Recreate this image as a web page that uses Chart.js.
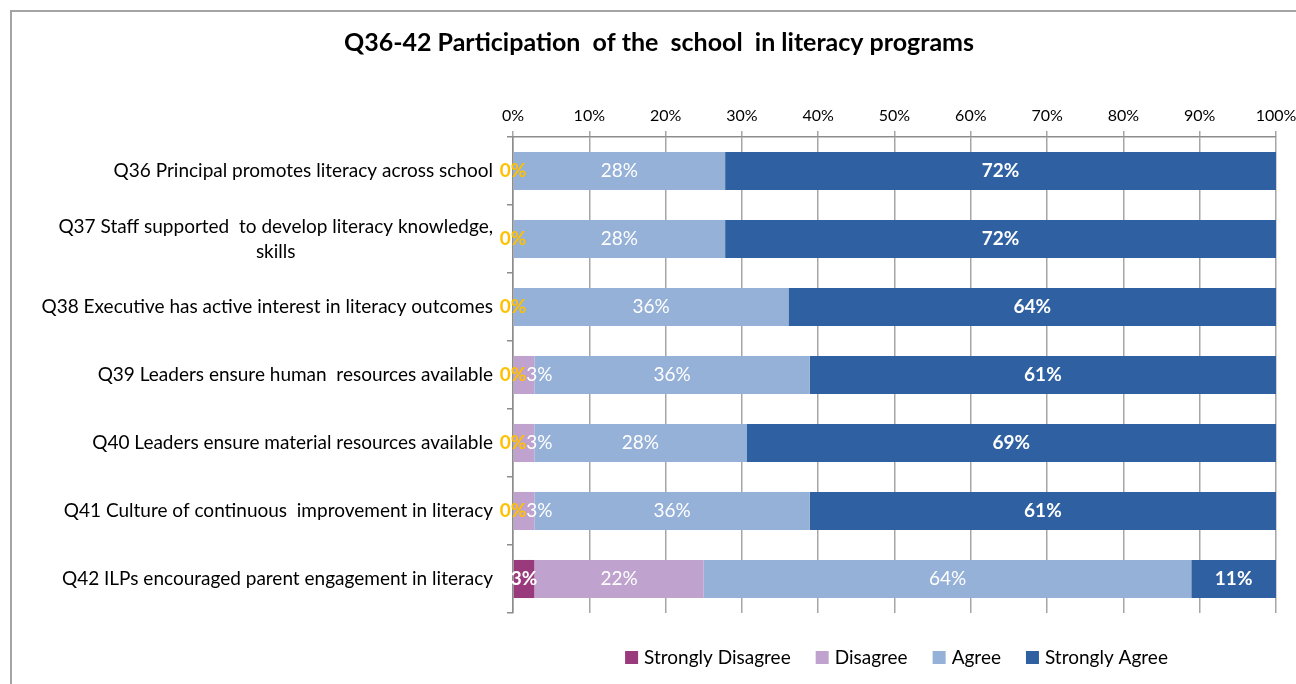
<!DOCTYPE html>
<html><head><meta charset="utf-8">
<script src="https://cdn.jsdelivr.net/npm/chart.js@4/dist/chart.umd.min.js"></script>
<style>
html,body{margin:0;padding:0;background:#fff;overflow:hidden}
#wrap{position:absolute;left:0;top:0;width:1296px;height:684px}
#frame{position:absolute;left:10px;top:10px;width:1320px;height:720px;border-left:2px solid #A4A4A4;border-top:2px solid #A4A4A4}
canvas{position:absolute;left:0;top:0}
</style></head><body>
<div id="wrap"><div id="frame"></div><canvas id="c" width="1296" height="684"></canvas></div>
<script>
const titleText = 'Q36-42 Participation  of the  school  in literacy programs';
const categories = [
  ['Q36 Principal promotes literacy across school'],
  ['Q37 Staff supported  to develop literacy knowledge,', 'skills'],
  ['Q38 Executive has active interest in literacy outcomes'],
  ['Q39 Leaders ensure human  resources available'],
  ['Q40 Leaders ensure material resources available'],
  ['Q41 Culture of continuous  improvement in literacy'],
  ['Q42 ILPs encouraged parent engagement in literacy']
];
const seriesNames = ['Strongly Disagree', 'Disagree', 'Agree', 'Strongly Agree'];
const stronglyDisagree = [0, 0, 0, 0, 0, 0, 2.8];
const disagree = [0, 0, 0, 2.8, 2.8, 2.8, 22.2];
const agree = [27.8, 27.8, 36.1, 36.1, 27.8, 36.1, 63.9];
const stronglyAgree = [72.2, 72.2, 63.9, 61.1, 69.4, 61.1, 11.1];
const xTicks = [0, 10, 20, 30, 40, 50, 60, 70, 80, 90, 100];

const FONT = 'Lato, "Open Sans", sans-serif';
const colors = ['#993A7C', '#BFA3CE', '#95B1D8', '#2E60A2'];
const values = [stronglyDisagree, disagree, agree, stronglyAgree];

const labelPlugin = {
  id: 'extras',
  afterDraw(chart) {
    const ctx = chart.ctx;
    const area = chart.chartArea;
    ctx.save();
    // title
    ctx.fillStyle = '#000';
    ctx.font = 'bold 25px ' + FONT;
    ctx.textAlign = 'center';
    ctx.textBaseline = 'middle';
    ctx.fillText(titleText, 659, 43);
    // category labels
    const y = chart.scales.y;
    ctx.font = '19px ' + FONT;
    categories.forEach((lines, i) => {
      const cy = y.getPixelForValue(i);
      const w = Math.max(...lines.map(l => ctx.measureText(l).width));
      const cx = area.left - 20 - w / 2;
      const lh = 25;
      const y0 = cy - (lines.length - 1) * lh / 2;
      lines.forEach((l, k) => ctx.fillText(l, cx, y0 + k * lh));
    });
    // data labels
    const sdRight = [];
    const specs = [];
    [0, 1, 2, 3].forEach(di => {
      const meta = chart.getDatasetMeta(di);
      meta.data.forEach((bar, j) => {
        const v = values[di][j];
        if (di === 1 && v === 0) return;
        const bold = (di === 0 || di === 3);
        const font = (bold ? 'bold ' : '') + '19px ' + FONT;
        ctx.font = font;
        const txt = Math.round(v) + '%';
        const w = ctx.measureText(txt).width;
        const props = bar.getProps(['x', 'y', 'base'], true);
        let x = (props.x + props.base) / 2;
        if (di === 0) sdRight[j] = x + w / 2;
        if (di === 1 && sdRight[j] !== undefined && values[0][j] === 0) x = Math.max(x, sdRight[j] + w / 2);
        specs.push({ di, txt, font, x, y: props.y, color: (di === 0 && v === 0) ? '#FFC000' : '#FFFFFF' });
      });
    });
    [1, 2, 3, 0].forEach(di => specs.filter(s => s.di === di).forEach(s => {
      ctx.font = s.font;
      ctx.fillStyle = s.color;
      ctx.fillText(s.txt, s.x, s.y);
    }));
    // legend
    ctx.font = '19px ' + FONT;
    ctx.textAlign = 'left';
    const box = 13, gapText = 6, gapItem = 25;
    let total = 0;
    seriesNames.forEach((n, i) => { total += box + gapText + ctx.measureText(n).width + (i < 3 ? gapItem : 0); });
    let lx = (area.left + area.right) / 2 - total / 2 + 2;
    const ly = 657;
    seriesNames.forEach((n, i) => {
      ctx.fillStyle = colors[i];
      ctx.fillRect(lx, ly - 6, box, box);
      ctx.fillStyle = '#000';
      ctx.fillText(n, lx + box + gapText, ly + 1);
      lx += box + gapText + ctx.measureText(n).width + gapItem;
    });
    ctx.restore();
  }
};

new Chart(document.getElementById('c'), {
  type: 'bar',
  data: {
    labels: categories.map(c => c.join(' ')),
    datasets: seriesNames.map((n, i) => ({
      label: n,
      data: values[i],
      backgroundColor: colors[i],
      borderWidth: 0,
      barPercentage: 0.56,
      categoryPercentage: 1.0
    }))
  },
  options: {
    indexAxis: 'y',
    responsive: false,
    animation: false,
    layout: { padding: { left: 10, right: 20, top: 96, bottom: 71 } },
    plugins: { legend: { display: false }, title: { display: false }, tooltip: { enabled: false } },
    scales: {
      x: {
        position: 'top',
        stacked: true,
        min: 0, max: 100,
        afterBuildTicks: s => { s.ticks = xTicks.map(v => ({ value: v })); },
        afterFit: s => { s.height = 41; s.paddingRight = 0; },
        ticks: { callback: v => v + '%', color: '#000', font: { family: FONT, size: 16 }, padding: 6, maxRotation: 0 },
        grid: { color: '#A6A6A6', lineWidth: 1.5, tickLength: 6, drawTicks: true },
        border: { color: '#8C8C8C', width: 1.5 }
      },
      y: {
        stacked: true,
        afterFit: s => { s.width = 503; },
        ticks: { display: false },
        grid: { drawOnChartArea: false, drawTicks: true, tickLength: 6, color: '#8C8C8C', lineWidth: 1.5, offset: true },
        border: { color: '#8C8C8C', width: 1.5 }
      }
    }
  },
  plugins: [labelPlugin]
});
</script>
</body></html>
